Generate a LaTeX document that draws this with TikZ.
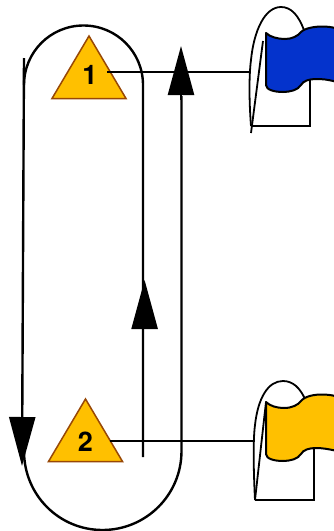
\documentclass[tikz,border=0pt]{standalone}
\usepackage{fontspec}
\setmainfont{TeX Gyre Heros}
\usetikzlibrary{arrows.meta}
\definecolor{gold}{HTML}{FFC000}
\definecolor{brownedge}{HTML}{984806}
\definecolor{flagblue}{HTML}{0433CC}
\tikzset{
  track/.style={line width=2.4pt,line cap=butt},
  link/.style={line width=1.9pt},
  bigtip/.style={line width=2.4pt,-{Triangle[length=49pt,width=26pt]}},
  marker/.style={fill=gold,draw=brownedge,line width=1.5pt,line join=miter},
  num/.style={font=\bfseries\fontsize{27}{27}\selectfont,inner sep=0pt,text=black},
  hand/.style={line width=1.8pt,line join=miter},
  flagshape/.style={draw=black,line width=2pt,line join=round},
}
\begin{document}
\begin{tikzpicture}[x=1pt,y=-1pt]
\useasboundingbox (0,0) rectangle (333,531);
% anchor points
\coordinate (leftTop) at (24,58);
\coordinate (leftEnd) at (22,466);
\coordinate (midEnd) at (143,457);
\coordinate (rightTip) at (181,46);
\coordinate (midBase) at (144.6,329);
\coordinate (midTip) at (144.6,280);
\coordinate (out1) at (107,72);
\coordinate (hand1) at (250,72);
\coordinate (out2) at (110,441);
\coordinate (hand2) at (254.5,441);
% track
\draw[track] (midEnd) -- (143,85) .. controls (143,52) and (116.4,25.5) .. (83.5,25.5) .. controls (50.6,25.5) and (24,52) .. (24,85);
\draw[track] (181.5,96) -- (181.5,451) .. controls (181.5,495) and (146,530) .. (102.5,530) .. controls (59,530) and (24,495) .. (24,451);
\draw[bigtip] (leftTop) -- (leftEnd);
\draw[bigtip] (midBase) -- (midTip);
\draw[bigtip] (181,100) -- (rightTip);
% marker triangles
\draw[marker] (89,36) -- (126,98.5) -- (52,98.5) -- cycle;
\draw[marker] (85.5,399) -- (122.5,461.5) -- (48.5,461.5) -- cycle;
\node[num] (n1) at (90,75) {1};
\node[num] (n2) at (85.5,441.5) {2};
% links
\draw[link] (out1) -- (hand1);
\draw[link] (out2) -- (hand2);
% hand 1
\draw[hand] (251,126) -- (310,126) -- (310,75);
\draw[hand] (263,41) -- (251,133);
\draw[hand] (251,126) .. controls (249,100) and (249,75) .. (251,60) .. controls (254,30) and (265,7) .. (281,7) .. controls (291,7) and (299,15) .. (305,33);
\draw[flagshape,fill=flagblue] (266,33) .. controls (270,37) and (278,39) .. (285,39) .. controls (292,39) and (298,36) .. (301,32) .. controls (305,28) and (315,26.5) .. (322,26.5) .. controls (327,26.5) and (331,27) .. (335,28) -- (335,81.5) .. controls (328,79.5) and (322,79) .. (316,79) .. controls (309,79) and (303,81) .. (301,85) .. controls (298,90) and (290,92) .. (283,92) .. controls (275,92) and (266,90) .. (266,85) -- cycle;
% hand 2
\draw[hand] (255,500) -- (314,500) -- (314,445);
\draw[hand] (266,402) -- (255,500);
\draw[hand] (255,500) .. controls (253.5,470) and (253,440) .. (255,425) .. controls (258,398) and (268,381) .. (283,381) .. controls (293,381) and (300,388) .. (305,399);
\draw[flagshape,fill=gold] (266,402) .. controls (270,406) and (277,408) .. (284,408) .. controls (292,408) and (298,405) .. (301,401) .. controls (305,396) and (315,394.5) .. (321,394.5) .. controls (327,394.5) and (331,395) .. (335,396) -- (335,450.5) .. controls (328,449) and (322,448) .. (316,448) .. controls (309,448) and (303,450) .. (301,454) .. controls (298,459) and (290,461) .. (283,461) .. controls (275,461) and (266,459) .. (266,454) -- cycle;
\end{tikzpicture}
\end{document}
